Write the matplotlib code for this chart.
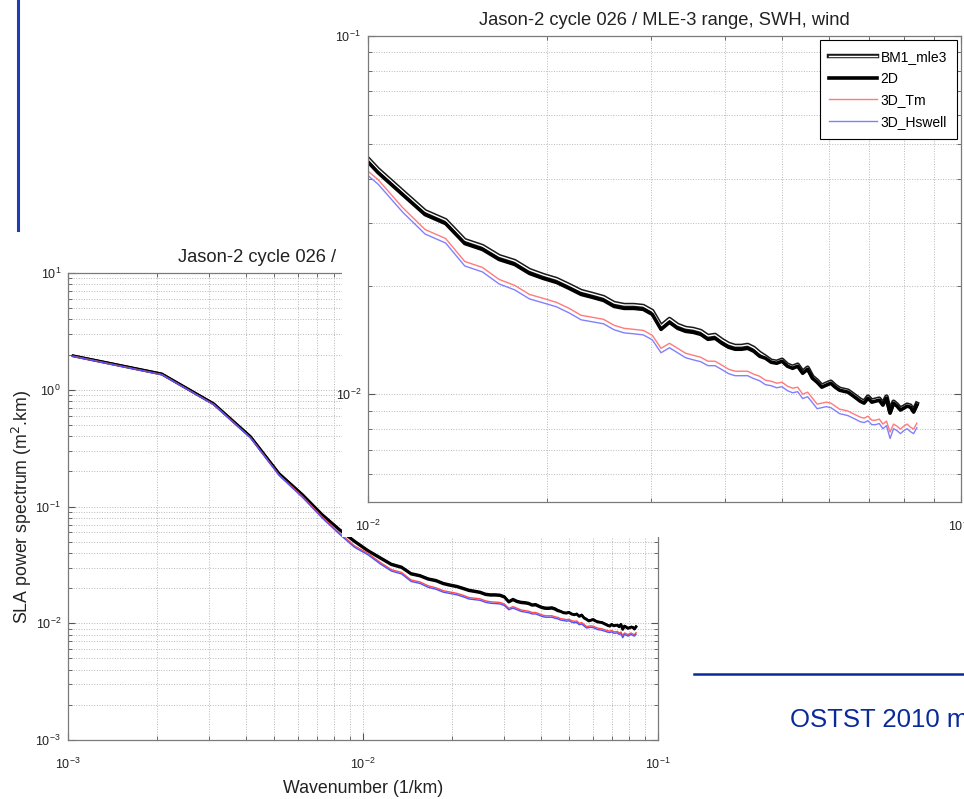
import numpy as np
import matplotlib
matplotlib.use("Agg")
import matplotlib.pyplot as plt
import matplotlib.patheffects as pe
from matplotlib.patches import Rectangle
from matplotlib.lines import Line2D
from matplotlib.ticker import LogLocator, NullFormatter

plt.rcParams['font.family'] = ['Liberation Sans', 'DejaVu Sans']
plt.rcParams['axes.unicode_minus'] = False

# spectral bins (1/km), bin n = 1..81
dk = 0.00104
wavenumber = dk * np.arange(1, 82)

series_names = ["BM1_mle3", "2D", "3D_Tm", "3D_Hswell"]

bm1_mle3 = [1.97, 1.38, 0.766, 0.400, 0.193, 0.1275, 0.0860, 0.0642, 0.0511,
            0.04244, 0.03685, 0.03242, 0.03060, 0.02692, 0.02591, 0.02429, 0.02353, 0.02221, 0.02150,
            0.02096, 0.02017, 0.01941, 0.01904, 0.01867, 0.01797, 0.01774, 0.01774, 0.01763, 0.01707,
            0.01550, 0.01622, 0.01561, 0.01531, 0.01521, 0.01501, 0.01454, 0.01464, 0.01418, 0.01382,
            0.01364, 0.01364, 0.01373, 0.01347, 0.01304, 0.01273, 0.01240, 0.01232, 0.01248, 0.01209,
            0.01193, 0.01209, 0.01155, 0.01186, 0.01119, 0.01091, 0.01056, 0.01071, 0.01084, 0.01056,
            0.01036, 0.01029, 0.01023, 0.01004, 0.00985, 0.00966, 0.00953, 0.00985, 0.00960, 0.00966,
            0.00972, 0.00941, 0.00985, 0.00894, 0.00953, 0.00935, 0.00912, 0.00923, 0.00935, 0.00929,
            0.00900, 0.00941]

spec_2d = [1.95, 1.36, 0.755, 0.394, 0.19, 0.1255, 0.0845, 0.063, 0.050,
           0.04153, 0.03606, 0.03172, 0.02994, 0.02634, 0.02535, 0.02377, 0.02302, 0.02173, 0.02104,
           0.02051, 0.01974, 0.01899, 0.01863, 0.01827, 0.01758, 0.01736, 0.01736, 0.01725, 0.01670,
           0.01517, 0.01587, 0.01527, 0.01498, 0.01488, 0.01469, 0.01423, 0.01432, 0.01387, 0.01352,
           0.01335, 0.01335, 0.01343, 0.01318, 0.01276, 0.01260, 0.01228, 0.01220, 0.01236, 0.01197,
           0.01181, 0.01197, 0.01144, 0.01174, 0.01108, 0.01080, 0.01046, 0.01060, 0.01073, 0.01046,
           0.01026, 0.01019, 0.01013, 0.00994, 0.00975, 0.00956, 0.00944, 0.00975, 0.00950, 0.00956,
           0.00962, 0.00932, 0.00975, 0.00885, 0.00944, 0.00926, 0.00903, 0.00914, 0.00926, 0.00920,
           0.00891, 0.00932]

spec_3d_tm = [1.94, 1.35, 0.748, 0.388, 0.186, 0.1215, 0.0810, 0.0595, 0.0460,
              0.03971, 0.03318, 0.02882, 0.02720, 0.02347, 0.02258, 0.02091, 0.02012, 0.01899, 0.01851,
              0.01804, 0.01736, 0.01660, 0.01639, 0.01618, 0.01557, 0.01527, 0.01517, 0.01507, 0.01460,
              0.01343, 0.01387, 0.01343, 0.01301, 0.01284, 0.01268, 0.01236, 0.01236, 0.01205, 0.01174,
              0.01159, 0.01159, 0.01159, 0.01137, 0.01122, 0.01094, 0.01087, 0.01073, 0.01080, 0.01053,
              0.01039, 0.01046, 0.01000, 0.01013, 0.00975, 0.00938, 0.00944, 0.00950, 0.00944, 0.00926,
              0.00908, 0.00903, 0.00897, 0.00885, 0.00874, 0.00863, 0.00857, 0.00868, 0.00846, 0.00846,
              0.00852, 0.00825, 0.00841, 0.00784, 0.00825, 0.00814, 0.00799, 0.00814, 0.00825, 0.00809,
              0.00799, 0.00830]

spec_3d_hswell = [1.93, 1.345, 0.745, 0.386, 0.184, 0.1195, 0.0795, 0.0580, 0.04471,
                  0.03858, 0.03223, 0.02800, 0.02642, 0.02280, 0.02194, 0.02031, 0.01955, 0.01845, 0.01798,
                  0.01753, 0.01686, 0.01613, 0.01592, 0.01572, 0.01513, 0.01483, 0.01474, 0.01464, 0.01418,
                  0.01305, 0.01348, 0.01305, 0.01264, 0.01247, 0.01232, 0.01201, 0.01201, 0.01171, 0.01141,
                  0.01126, 0.01126, 0.01126, 0.01105, 0.01090, 0.01063, 0.01056, 0.01042, 0.01049, 0.01023,
                  0.01009, 0.01016, 0.00972, 0.00984, 0.00947, 0.00911, 0.00917, 0.00923, 0.00917, 0.00900,
                  0.00882, 0.00877, 0.00871, 0.00860, 0.00849, 0.00838, 0.00833, 0.00843, 0.00822, 0.00822,
                  0.00828, 0.00801, 0.00817, 0.00752, 0.00801, 0.00791, 0.00776, 0.00791, 0.00801, 0.00786,
                  0.00776, 0.00806]

title = "Jason-2 cycle 026 / MLE-3 range, SWH, wind"

W, H = 964, 799
fig = plt.figure(figsize=(W / 100, H / 100), dpi=100)
fig.patch.set_facecolor("white")


def px_axes(left, top, right, bottom):
    return [left / W, 1 - bottom / H, (right - left) / W, (bottom - top) / H]


def matlab_style(ax):
    ax.set_xscale("log")
    ax.set_yscale("log")
    for a in (ax.xaxis, ax.yaxis):
        a.set_major_locator(LogLocator(base=10))
        a.set_minor_locator(LogLocator(base=10, subs=np.arange(2, 10)))
        a.set_minor_formatter(NullFormatter())
    ax.tick_params(which="both", direction="in", top=True, right=True,
                   color="#555555", labelcolor="#222222", labelsize=9)
    ax.tick_params(which="major", length=5)
    ax.tick_params(which="minor", length=3)
    ax.tick_params(axis="x", which="major", pad=12)
    ax.tick_params(axis="y", which="major", pad=5)
    ax.grid(True, which="both", linestyle=":", color="#b8b8b8", linewidth=0.7)
    for s in ax.spines.values():
        s.set_color("#7a7a7a")
        s.set_linewidth(0.9)


# back figure (full range)
ax1 = fig.add_axes(px_axes(68, 273, 658, 740))
ax1.set_zorder(0)
matlab_style(ax1)
ax1.plot(wavenumber, bm1_mle3, color="black", lw=1.4)
ax1.plot(wavenumber, spec_2d, color="black", lw=2.0)
ax1.plot(wavenumber, spec_3d_tm, color="#ff4d4d", lw=1.0)
ax1.plot(wavenumber, spec_3d_hswell, color="#5050ff", lw=1.0)
ax1.set_xlim(1e-3, 1e-1)
ax1.set_ylim(1e-3, 1e1)
ax1.set_title(title, fontsize=13.2, color="#222222", pad=8)
ax1.set_xlabel("Wavenumber (1/km)", fontsize=12.8, color="#222222", labelpad=6)
ax1.set_ylabel("SLA power spectrum (m$^2$.km)", fontsize=12.8, color="#222222", labelpad=1)

# white sheet of the zoomed figure pasted on top
fig.patches.append(Rectangle((342 / W, 1 - 537 / H), 1 - 342 / W, 537 / H,
                             transform=fig.transFigure, facecolor="white",
                             edgecolor="none", zorder=1))

# front figure (zoom on high wavenumbers)
ax2 = fig.add_axes(px_axes(368, 36, 961, 502))
ax2.set_zorder(2)
matlab_style(ax2)
ax2.plot(wavenumber, bm1_mle3, color="white", lw=1.0, label=series_names[0],
         path_effects=[pe.Stroke(linewidth=3.2, foreground="#1a1a1a"), pe.Normal()])
ax2.plot(wavenumber, spec_2d, color="black", lw=2.6, label=series_names[1])
ax2.plot(wavenumber, spec_3d_tm, color="#ff7a7a", lw=1.0, label=series_names[2])
ax2.plot(wavenumber, spec_3d_hswell, color="#8080ff", lw=1.0, label=series_names[3])
ax2.set_xlim(1e-2, 1e-1)
ax2.set_ylim(5e-3, 1e-1)
ax2.set_title(title, fontsize=13.2, color="#222222", pad=8)
leg = ax2.legend(loc="upper right", fontsize=10, frameon=True, fancybox=False,
                 edgecolor="black", framealpha=1, handlelength=3.4,
                 handletextpad=0.3, labelspacing=0.55, borderaxespad=0.3,
                 borderpad=0.7)
leg.get_frame().set_linewidth(0.8)

# slide decorations
fig.add_artist(Line2D([18 / W, 18 / W], [1 - 230 / H, 1.0], transform=fig.transFigure,
                      color="#1e3cb4", lw=2.2))
fig.add_artist(Line2D([694 / W, 1.0], [1 - 674 / H, 1 - 674 / H], transform=fig.transFigure,
                      color="#0a2a9a", lw=1.8))
fig.text(790 / W, 1 - 720 / H, "OSTST 2010 meeting", color="#0a2a9a",
         fontsize=18.5, va="center", ha="left")

fig.savefig("out.png", dpi=100, facecolor="white")
